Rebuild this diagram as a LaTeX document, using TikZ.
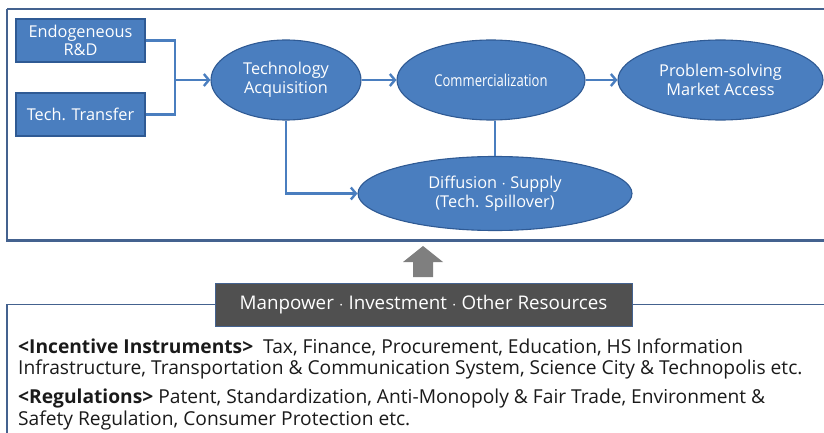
\documentclass[tikz,border=0pt]{standalone}
\usepackage{fontspec}
\setmainfont{Open Sans}
\usetikzlibrary{shapes.geometric,arrows.meta}
\definecolor{nodeblue}{HTML}{4A7EBF}
\definecolor{nodeedge}{HTML}{2F5A94}
\definecolor{framecol}{HTML}{44628F}
\definecolor{darkbox}{HTML}{505050}
\definecolor{arrowgray}{HTML}{7F7F7F}
\definecolor{textdark}{HTML}{1A1A1A}
\begin{document}
\begin{tikzpicture}[x=1pt,y=-1pt,
  ell/.style={ellipse, fill=nodeblue, draw=nodeedge, line width=1.1pt, text=white,
    inner sep=0pt, align=center, font=\fontsize{16.3}{19.5}\selectfont},
  rbox/.style={rectangle, fill=nodeblue, draw=nodeedge, line width=1.1pt, text=white,
    inner sep=0pt, align=center, minimum width=129pt, minimum height=43pt,
    font=\fontsize{16.3}{18.5}\selectfont},
  conn/.style={draw=nodeblue, line width=2.6pt},
  arr/.style={conn, -{Straight Barb[length=5pt,width=12pt,line width=2.4pt]}},
  frameline/.style={draw=framecol, line width=2.2pt},
  bodytext/.style={anchor=west, inner sep=0pt, text=textdark, font=\fontsize{19.2}{22}\selectfont},
]
\useasboundingbox (0,0) rectangle (824,433);
% top frame
\draw[frameline] (7,9) -- (830,9) (7,9) -- (7,240.5) -- (830,240.5);

% nodes
\node[rbox] (rd) at (80.5,40.5) {Endogeneous\\R\&D};
\node[rbox] (tt) at (80.5,114.5) {Tech. Transfer};
\node[ell, minimum width=150pt, minimum height=80pt] (ta) at (286,80) {Technology\\Acquisition};
\node[ell, minimum width=188pt, minimum height=80pt] (com) at (491,80) {\scalebox{0.8}[1]{Commercialization}};
\node[ell, minimum width=205pt, minimum height=80pt] (ps) at (720.5,80) {Problem-solving\\Market Access};
\node[ell, minimum width=274pt, minimum height=74pt] (dif) at (495,193.5) {Diffusion $\cdot$ Supply\\(Tech. Spillover)};

% connectors
\coordinate (j) at (175,80);
\draw[conn] (rd.east) -| (j);
\draw[conn] (tt.east) -| (j);
\draw[arr] (j) -- (ta.west);
\draw[arr] (ta.east) -- (com.west);
\draw[arr] (com.east) -- (ps.west);
\draw[arr] (ta.south) |- (dif.west);
\draw[conn] (dif.north |- com.south) -- (dif.north);

% gray up arrow
\fill[arrowgray] (413,277) -- (413,262) -- (403,262) -- (423,246) -- (443,262) -- (433,262) -- (433,277) -- cycle;

% bottom frame
\draw[draw=framecol, line width=1.3pt] (7,440) -- (7,304.5) -- (830,304.5);
\node[rectangle, fill=darkbox, draw=framecol, line width=0.8pt, minimum width=417pt, minimum height=43pt,
  inner sep=0pt, text=white, font=\fontsize{18.8}{22}\selectfont] (mp) at (423.5,304.5)
  {Manpower $\cdot$ Investment $\cdot$ Other Resources};

% body text
\node[bodytext] (l1) at (18,347) {\textbf{<Incentive Instruments>}\ \ Tax, Finance, Procurement, Education, HS Information};
\node[bodytext] (l2) at (18,369) {Infrastructure, Transportation \& Communication System, Science City \& Technopolis etc.};
\node[bodytext] (l3) at (18,399) {\textbf{<Regulations>} Patent, Standardization, Anti-Monopoly \& Fair Trade, Environment \&};
\node[bodytext] (l4) at (18,420) {Safety Regulation, Consumer Protection etc.};
\end{tikzpicture}
\end{document}
